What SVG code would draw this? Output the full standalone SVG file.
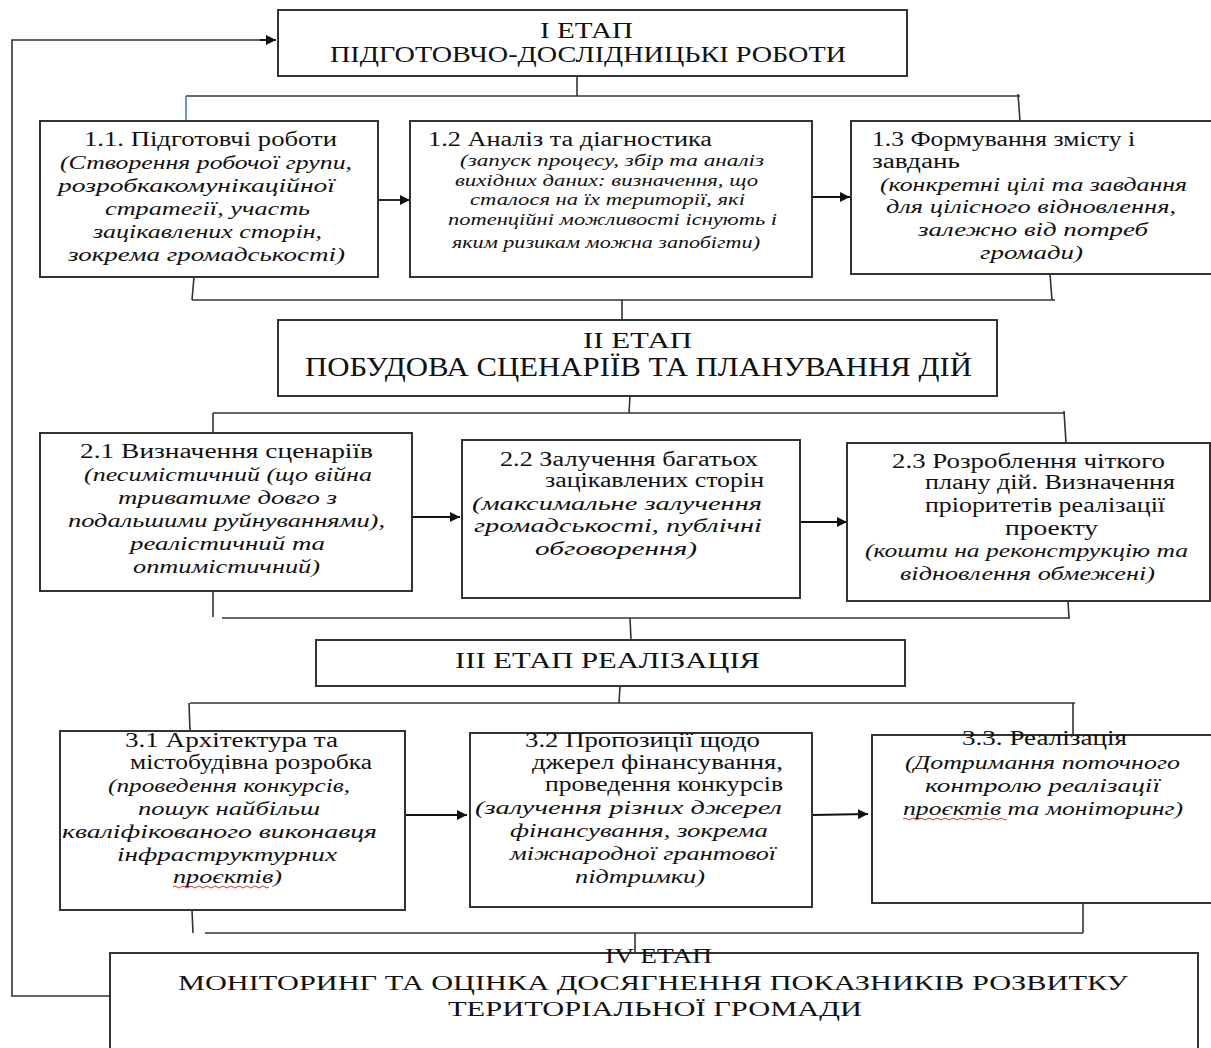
<svg xmlns="http://www.w3.org/2000/svg" width="1211" height="1048" viewBox="0 0 1211 1048">
<defs>
<marker id="ah" viewBox="0 0 10 10" refX="10" refY="5" markerWidth="10" markerHeight="10" markerUnits="userSpaceOnUse" orient="auto">
<path d="M0,0 L10,5 L0,10 z" fill="#111"/>
</marker>
<style>
.box{fill:#fff;stroke:#333;stroke-width:2}
.ln{fill:none;stroke:#333;stroke-width:1.6}
.ar{fill:none;stroke:#111;stroke-width:1.8;marker-end:url(#ah)}
text{font-family:"Liberation Serif","Times New Roman",serif;fill:#111}
.st{font-size:24px}
.st2{font-size:28px}
.st4{font-size:22px}
.t{font-size:20px}
.i{font-size:19px;font-style:italic}
.s{font-size:17px;font-style:italic}
.wavy{fill:none;stroke:#e03030;stroke-width:1}
</style>
</defs>
<rect width="1211" height="1048" fill="#fff"/>

<g id="connectors">
<polyline class="ln" points="110,996 12,996 12,40 268,40"/>
<line class="ar" x1="260" y1="40" x2="276" y2="40"/>
<line class="ln" x1="577" y1="76" x2="577" y2="96"/>
<line class="ln" x1="186" y1="96" x2="1020" y2="96"/>
<line x1="186" y1="96" x2="186" y2="121" stroke="#4a78c8" stroke-width="1.6"/>
<line class="ln" x1="1018" y1="94" x2="1020" y2="121"/>
<line class="ar" x1="378" y1="200" x2="410" y2="200"/>
<line class="ar" x1="812" y1="197" x2="850" y2="197"/>
<line class="ln" x1="194" y1="277" x2="192" y2="300"/>
<line class="ln" x1="192" y1="300" x2="1055" y2="300"/>
<line class="ln" x1="1050" y1="274" x2="1052" y2="300"/>
<line class="ln" x1="622" y1="300" x2="622" y2="320"/>
<line class="ln" x1="630" y1="396" x2="629" y2="413"/>
<line class="ln" x1="213" y1="413" x2="1065" y2="413"/>
<line class="ln" x1="213" y1="413" x2="213" y2="433"/>
<line class="ln" x1="1064" y1="411" x2="1066" y2="443"/>
<line class="ar" x1="412" y1="517" x2="460" y2="517"/>
<line class="ar" x1="800" y1="522" x2="847" y2="522"/>
<line class="ln" x1="213" y1="591" x2="213" y2="617"/>
<line class="ln" x1="222" y1="618" x2="1070" y2="618"/>
<line class="ln" x1="1068" y1="601" x2="1069" y2="618"/>
<line class="ln" x1="630" y1="618" x2="631" y2="640"/>
<line class="ln" x1="620" y1="686" x2="619" y2="703"/>
<line class="ln" x1="190" y1="703" x2="1075" y2="703"/>
<line class="ln" x1="189" y1="703" x2="190" y2="731"/>
<line class="ln" x1="1073" y1="703" x2="1073" y2="735"/>
<line class="ar" x1="400" y1="815" x2="467" y2="815"/>
<line class="ar" x1="812" y1="815" x2="868" y2="814"/>
<line class="ln" x1="192" y1="910" x2="193" y2="933"/>
<line class="ln" x1="205" y1="933" x2="1083" y2="933"/>
<line class="ln" x1="1083" y1="903" x2="1083" y2="933"/>
<line class="ln" x1="635" y1="933" x2="635" y2="953"/>
</g>

<g id="stage1">
<rect class="box" x="278" y="10" width="629" height="66"/>
<text class="st" x="540" y="38" textLength="93" lengthAdjust="spacingAndGlyphs">I ЕТАП</text>
<text class="st" x="330" y="62" textLength="516" lengthAdjust="spacingAndGlyphs">ПІДГОТОВЧО-ДОСЛІДНИЦЬКІ РОБОТИ</text>
</g>

<g id="n11">
<rect class="box" x="40" y="121" width="338" height="156"/>
<text class="t" x="84" y="146" textLength="253" lengthAdjust="spacingAndGlyphs">1.1. Підготовчі роботи</text>
<text class="i" x="60" y="169" textLength="292" lengthAdjust="spacingAndGlyphs">(Створення робочої групи,</text>
<text class="i" x="58" y="192" textLength="277" lengthAdjust="spacingAndGlyphs">розробкакомунікаційної</text>
<text class="i" x="105" y="215" textLength="205" lengthAdjust="spacingAndGlyphs">стратегії, участь</text>
<text class="i" x="93" y="238" textLength="229" lengthAdjust="spacingAndGlyphs">зацікавлених сторін,</text>
<text class="i" x="68" y="261" textLength="277" lengthAdjust="spacingAndGlyphs">зокрема громадськості)</text>
</g>

<g id="n12">
<rect class="box" x="410" y="121" width="402" height="156"/>
<text class="t" x="428" y="146" textLength="284" lengthAdjust="spacingAndGlyphs">1.2  Аналіз та діагностика</text>
<text class="s" x="460" y="166" textLength="304" lengthAdjust="spacingAndGlyphs">(запуск процесу, збір та аналіз</text>
<text class="s" x="455" y="186" textLength="303" lengthAdjust="spacingAndGlyphs">вихідних даних: визначення, що</text>
<text class="s" x="470" y="205" textLength="275" lengthAdjust="spacingAndGlyphs">сталося на їх території, які</text>
<text class="s" x="448" y="225" textLength="329" lengthAdjust="spacingAndGlyphs">потенційні можливості існують і</text>
<text class="s" x="452" y="248" textLength="308" lengthAdjust="spacingAndGlyphs">яким ризикам можна запобігти)</text>
</g>

<g id="n13">
<rect class="box" x="851" y="121" width="362" height="153"/>
<text class="t" x="872" y="146" textLength="263" lengthAdjust="spacingAndGlyphs">1.3 Формування змісту і</text>
<text class="t" x="872" y="168" textLength="88" lengthAdjust="spacingAndGlyphs">завдань</text>
<text class="i" x="880" y="191" textLength="307" lengthAdjust="spacingAndGlyphs">(конкретні цілі та завдання</text>
<text class="i" x="886" y="213" textLength="290" lengthAdjust="spacingAndGlyphs">для цілісного відновлення,</text>
<text class="i" x="918" y="236" textLength="230" lengthAdjust="spacingAndGlyphs">залежно від потреб</text>
<text class="i" x="980" y="259" textLength="103" lengthAdjust="spacingAndGlyphs">громади)</text>
</g>

<g id="stage2">
<rect class="box" x="278" y="320" width="719" height="76"/>
<text class="st" x="583" y="348" textLength="109" lengthAdjust="spacingAndGlyphs">II ЕТАП</text>
<text class="st2" x="305" y="376" textLength="667" lengthAdjust="spacingAndGlyphs">ПОБУДОВА СЦЕНАРІЇВ ТА ПЛАНУВАННЯ ДІЙ</text>
</g>

<g id="n21">
<rect class="box" x="40" y="433" width="372" height="158"/>
<text class="t" x="80" y="458" textLength="293" lengthAdjust="spacingAndGlyphs">2.1  Визначення сценаріїв</text>
<text class="i" x="84" y="481" textLength="288" lengthAdjust="spacingAndGlyphs">(песимістичний (що війна</text>
<text class="i" x="118" y="504" textLength="219" lengthAdjust="spacingAndGlyphs">триватиме довго з</text>
<text class="i" x="68" y="527" textLength="317" lengthAdjust="spacingAndGlyphs">подальшими руйнуваннями),</text>
<text class="i" x="130" y="550" textLength="195" lengthAdjust="spacingAndGlyphs">реалістичний та</text>
<text class="i" x="133" y="573" textLength="187" lengthAdjust="spacingAndGlyphs">оптимістичний)</text>
</g>

<g id="n22">
<rect class="box" x="462" y="440" width="338" height="158"/>
<text class="t" x="500" y="466" textLength="258" lengthAdjust="spacingAndGlyphs">2.2  Залучення багатьох</text>
<text class="t" x="545" y="487" textLength="219" lengthAdjust="spacingAndGlyphs">зацікавлених сторін</text>
<text class="i" x="472" y="510" textLength="290" lengthAdjust="spacingAndGlyphs">(максимальне залучення</text>
<text class="i" x="474" y="532" textLength="288" lengthAdjust="spacingAndGlyphs">громадськості, публічні</text>
<text class="i" x="535" y="555" textLength="162" lengthAdjust="spacingAndGlyphs">обговорення)</text>
</g>

<g id="n23">
<rect class="box" x="847" y="443" width="363" height="158"/>
<text class="t" x="892" y="468" textLength="273" lengthAdjust="spacingAndGlyphs">2.3  Розроблення чіткого</text>
<text class="t" x="925" y="489" textLength="250" lengthAdjust="spacingAndGlyphs">плану дій. Визначення</text>
<text class="t" x="925" y="512" textLength="240" lengthAdjust="spacingAndGlyphs">пріоритетів реалізації</text>
<text class="t" x="1005" y="535" textLength="93" lengthAdjust="spacingAndGlyphs">проекту</text>
<text class="i" x="865" y="557" textLength="323" lengthAdjust="spacingAndGlyphs">(кошти на реконструкцію та</text>
<text class="i" x="900" y="580" textLength="255" lengthAdjust="spacingAndGlyphs">відновлення обмежені)</text>
</g>

<g id="stage3">
<rect class="box" x="316" y="640" width="589" height="46"/>
<text class="st" x="455" y="668" textLength="305" lengthAdjust="spacingAndGlyphs">III ЕТАП РЕАЛІЗАЦІЯ</text>
</g>

<g id="n31">
<rect class="box" x="60" y="731" width="345" height="179"/>
<text class="t" x="125" y="747" textLength="213" lengthAdjust="spacingAndGlyphs">3.1  Архітектура та</text>
<text class="t" x="130" y="769" textLength="242" lengthAdjust="spacingAndGlyphs">містобудівна розробка</text>
<text class="i" x="108" y="792" textLength="242" lengthAdjust="spacingAndGlyphs">(проведення конкурсів,</text>
<text class="i" x="138" y="815" textLength="182" lengthAdjust="spacingAndGlyphs">пошук найбільш</text>
<text class="i" x="62" y="838" textLength="315" lengthAdjust="spacingAndGlyphs">кваліфікованого виконавця</text>
<text class="i" x="117" y="861" textLength="220" lengthAdjust="spacingAndGlyphs">інфраструктурних</text>
<text class="i" x="173" y="883" textLength="109" lengthAdjust="spacingAndGlyphs">проєктів)</text>
<path class="wavy" d="M173,887 q2,-2 4,0 t4,0 t4,0 t4,0 t4,0 t4,0 t4,0 t4,0 t4,0 t4,0 t4,0 t4,0 t4,0 t4,0 t4,0 t4,0 t4,0 t4,0 t4,0 t4,0 t4,0 t4,0 t4,0 t4,0"/>
</g>

<g id="n32">
<rect class="box" x="470" y="733" width="342" height="174"/>
<text class="t" x="525" y="747" textLength="235" lengthAdjust="spacingAndGlyphs">3.2  Пропозиції щодо</text>
<text class="t" x="532" y="769" textLength="251" lengthAdjust="spacingAndGlyphs">джерел фінансування,</text>
<text class="t" x="545" y="791" textLength="238" lengthAdjust="spacingAndGlyphs">проведення конкурсів</text>
<text class="i" x="475" y="814" textLength="307" lengthAdjust="spacingAndGlyphs">(залучення різних джерел</text>
<text class="i" x="510" y="837" textLength="258" lengthAdjust="spacingAndGlyphs">фінансування, зокрема</text>
<text class="i" x="510" y="860" textLength="266" lengthAdjust="spacingAndGlyphs">міжнародної грантової</text>
<text class="i" x="575" y="883" textLength="130" lengthAdjust="spacingAndGlyphs">підтримки)</text>
</g>

<g id="n33">
<rect class="box" x="872" y="735" width="341" height="168"/>
<text class="t" x="962" y="745" textLength="165" lengthAdjust="spacingAndGlyphs">3.3. Реалізація</text>
<text class="i" x="905" y="769" textLength="275" lengthAdjust="spacingAndGlyphs">(Дотримання поточного</text>
<text class="i" x="925" y="792" textLength="235" lengthAdjust="spacingAndGlyphs">контролю реалізації</text>
<text class="i" x="903" y="815" textLength="280" lengthAdjust="spacingAndGlyphs">проєктів та моніторинг)</text>
<path class="wavy" d="M903,819 q2,-2 4,0 t4,0 t4,0 t4,0 t4,0 t4,0 t4,0 t4,0 t4,0 t4,0 t4,0 t4,0 t4,0 t4,0 t4,0 t4,0 t4,0 t4,0 t4,0 t4,0 t4,0 t4,0 t4,0 t4,0 t4,0 t4,0"/>
</g>

<g id="stage4">
<rect class="box" x="110" y="953" width="1088" height="110"/>
<text class="st4" x="605" y="963" textLength="107" lengthAdjust="spacingAndGlyphs">IV ЕТАП</text>
<text class="st4" x="178" y="990" textLength="950" lengthAdjust="spacingAndGlyphs">МОНІТОРИНГ  ТА ОЦІНКА ДОСЯГНЕННЯ ПОКАЗНИКІВ РОЗВИТКУ</text>
<text class="st4" x="448" y="1016" textLength="414" lengthAdjust="spacingAndGlyphs">ТЕРИТОРІАЛЬНОЇ  ГРОМАДИ</text>
</g>
</svg>
